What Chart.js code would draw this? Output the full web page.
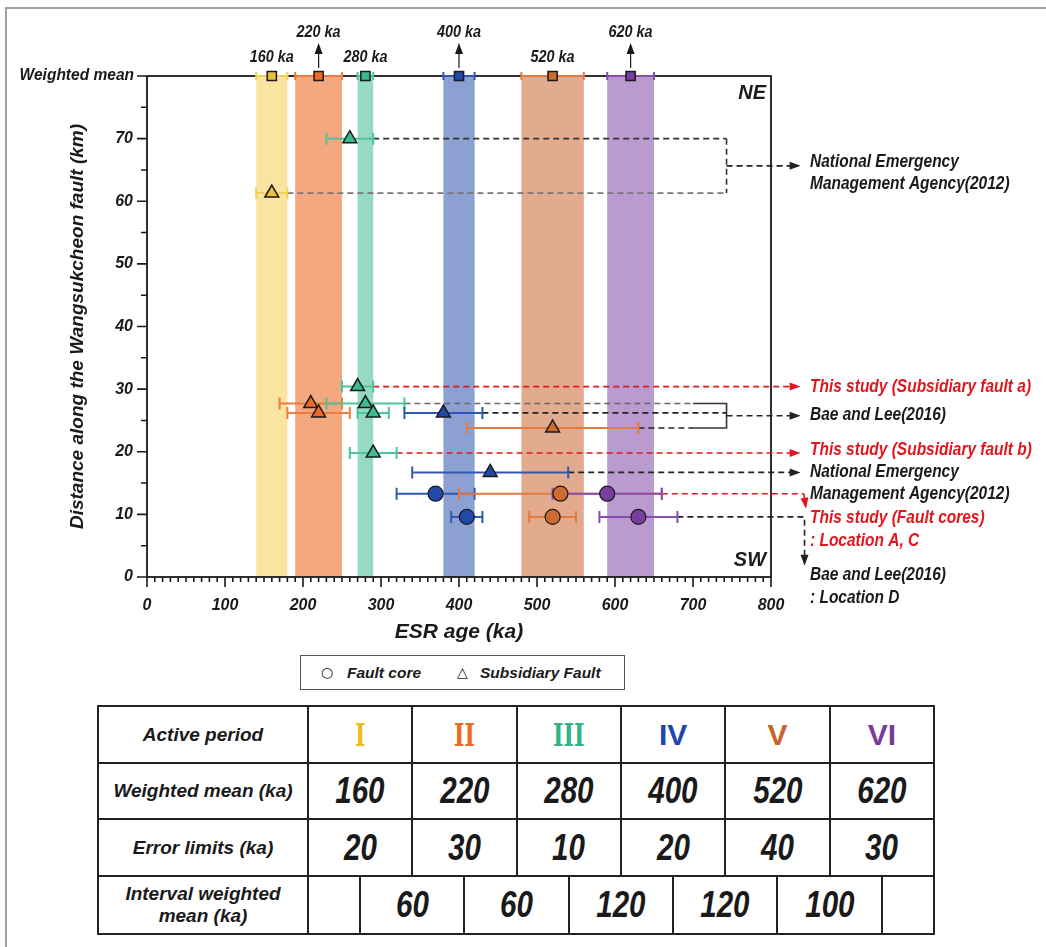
<!DOCTYPE html>
<html>
<head>
<meta charset="utf-8">
<script src="https://cdn.jsdelivr.net/npm/chart.js@4.4.0/dist/chart.umd.min.js"></script>
<style>
body{margin:0;background:#fff;width:1046px;height:947px;position:relative;overflow:hidden;font-family:"Liberation Sans",Arial,sans-serif;color:#1a1a1a;}
#frame{position:absolute;left:5px;top:7px;right:-5px;bottom:-5px;border-left:2px solid #a0a0a0;border-top:2px solid #a0a0a0;}
#wrap{position:absolute;left:0;top:0;width:1046px;height:650px;}
#legendBox{position:absolute;left:300px;top:655px;width:325px;height:35px;border:1.5px solid #555;box-sizing:border-box;font-style:italic;font-weight:bold;font-size:15.5px;}
#legendBox span{position:absolute;top:8px;white-space:nowrap;}
#legendBox .sym{font-style:normal;font-weight:normal;font-family:"DejaVu Sans",sans-serif;font-size:14px;top:8px;}
table{position:absolute;left:97px;top:705px;width:836px;border-collapse:collapse;table-layout:fixed;}
td{border:2px solid #222;text-align:center;font-style:italic;font-weight:bold;padding:0;}
td.lab{font-size:19px;line-height:22px;}
td.num span{display:inline-block;font-size:37px;transform:scaleX(0.8);}
td.rom{font-style:normal;font-size:30px;}
td.rom span{display:inline-block;}
td.rom span.serif{transform:scaleX(0.72);font-size:31px;}
</style>
</head>
<body>
<div id="frame"></div>
<div id="wrap"><canvas id="esrChart" width="1046" height="650"></canvas></div>
<div id="legendBox"><span class="sym" style="left:20px">○</span><span style="left:46px">Fault core</span><span class="sym" style="left:156px">△</span><span style="left:179px">Subsidiary Fault</span></div>
<table id="periodTable"></table>
<script>
// active periods (weighted means and error limits, ka)
const periodNames = ['I', 'II', 'III', 'IV', 'V', 'VI'];
const periodMeans = [160, 220, 280, 400, 520, 620];
const periodErrors = [20, 30, 10, 20, 40, 30];
const intervalMeans = [60, 60, 120, 120, 100];

const bandColors = ['#f9e4a0', '#f4a880', '#96dac1', '#8ca1d1', '#e2ab8d', '#b99bd0'];
const markColors = ['#e8c23c', '#ec6a2a', '#3dbb90', '#2049a8', '#cd6c31', '#7a3e9e'];
const barColors = ['#f0d258', '#ef7b3c', '#4cc49c', '#2f58b4', '#e07c43', '#8a4cae'];
const textColors = ['#ecbb1e', '#ec6a1e', '#2fb488', '#1f45b0', '#c8622a', '#7a3a9e'];

// subsidiary fault samples (triangles)
const subAge = [260, 160, 270, 210, 220, 280, 290, 380, 520, 290, 440];
const subDist = [70, 61.3, 30.4, 27.7, 26.2, 27.7, 26.2, 26.2, 23.8, 19.8, 16.7];
const subErr = [30, 20, 20, 40, 40, 50, 20, 50, 110, 30, 100];
const subPeriod = [2, 0, 2, 1, 1, 2, 2, 3, 4, 2, 3];

// fault core samples (circles)
const coreAge = [370, 530, 590, 410, 520, 630];
const coreDist = [13.3, 13.3, 13.3, 9.6, 9.6, 9.6];
const coreErr = [50, 130, 70, 20, 30, 50];
const corePeriod = [3, 4, 5, 3, 4, 5];

// reference labels on the right
const refLines = [
    ['National Emergency', 'Management Agency(2012)'],
    ['This study (Subsidiary fault a)'],
    ['Bae and Lee(2016)'],
    ['This study (Subsidiary fault b)'],
    ['National Emergency', 'Management Agency(2012)'],
    ['This study (Fault cores)', ': Location A, C'],
    ['Bae and Lee(2016)', ': Location D']
];
const refColors = ['#1a1a1a', '#e3161f', '#1a1a1a', '#e3161f', '#1a1a1a', '#e3161f', '#1a1a1a'];
const refDist = [66.3, 30.4, 25.9, 20.3, 16.8, 9.4, 0.3];

const FAM = '"Liberation Sans", Arial, sans-serif';
const RED = '#e3161f';

// table
(function buildTable() {
    let h = '<colgroup><col style="width:210px">';
    for (let i = 0; i < 12; i++) h += '<col style="width:' + (626 / 12) + 'px">';
    h += '</colgroup>';
    h += '<tr style="height:57px"><td class="lab">Active period</td>' + periodNames.map((n, i) =>
        `<td colspan="2" class="rom" style="color:${textColors[i]};font-family:${i < 3 ? '\'DejaVu Serif\'' : '\'Liberation Sans\''}"><span class="${i < 3 ? 'serif' : ''}">${n}</span></td>`).join('') + '</tr>';
    h += '<tr style="height:56px"><td class="lab">Weighted mean (ka)</td>' + periodMeans.map(m => `<td colspan="2" class="num"><span>${m}</span></td>`).join('') + '</tr>';
    h += '<tr style="height:57px"><td class="lab">Error limits (ka)</td>' + periodErrors.map(e => `<td colspan="2" class="num"><span>${e}</span></td>`).join('') + '</tr>';
    h += '<tr style="height:58px"><td class="lab">Interval weighted<br>mean (ka)</td><td></td>' + intervalMeans.map(m => `<td colspan="2" class="num"><span>${m}</span></td>`).join('') + '<td></td></tr>';
    document.getElementById('periodTable').innerHTML = h;
})();

function dashed(ctx, pts, color, dash) {
    ctx.save();
    ctx.strokeStyle = color;
    ctx.lineWidth = 1.6;
    ctx.setLineDash(dash === false ? [] : [6, 4]);
    ctx.beginPath();
    ctx.moveTo(pts[0][0], pts[0][1]);
    for (let i = 1; i < pts.length; i++) ctx.lineTo(pts[i][0], pts[i][1]);
    ctx.stroke();
    ctx.restore();
}

function arrowHead(ctx, x0, y0, x1, y1, color) {
    const a = Math.atan2(y1 - y0, x1 - x0);
    ctx.save();
    ctx.fillStyle = color;
    ctx.beginPath();
    ctx.moveTo(x1, y1);
    ctx.lineTo(x1 - 11 * Math.cos(a) + 4 * Math.sin(a), y1 - 11 * Math.sin(a) - 4 * Math.cos(a));
    ctx.lineTo(x1 - 11 * Math.cos(a) - 4 * Math.sin(a), y1 - 11 * Math.sin(a) + 4 * Math.cos(a));
    ctx.closePath();
    ctx.fill();
    ctx.restore();
}

// condensed text: squeeze horizontally around the anchor
function narrowText(ctx, s, x, y, sx) {
    ctx.save();
    ctx.translate(x, y);
    ctx.scale(sx, 1);
    ctx.fillText(s, 0, 0);
    ctx.restore();
}

function errBar(ctx, x, y, a, d, e, color, cap) {
    const x0 = x.getPixelForValue(a - e), x1 = x.getPixelForValue(a + e), yy = y.getPixelForValue(d);
    ctx.save();
    ctx.strokeStyle = color;
    ctx.lineWidth = 2;
    ctx.beginPath();
    ctx.moveTo(x0, yy); ctx.lineTo(x1, yy);
    ctx.moveTo(x0, yy - cap); ctx.lineTo(x0, yy + cap);
    ctx.moveTo(x1, yy - cap); ctx.lineTo(x1, yy + cap);
    ctx.stroke();
    ctx.restore();
}

const backdrop = {
    id: 'backdrop',
    beforeDatasetsDraw(chart) {
        const {ctx, chartArea: ca, scales: {x, y}} = chart;
        // period bands
        periodMeans.forEach((m, i) => {
            const l = x.getPixelForValue(m - periodErrors[i]), r = x.getPixelForValue(m + periodErrors[i]);
            ctx.fillStyle = bandColors[i];
            ctx.fillRect(l, ca.top, r - l, ca.bottom - ca.top);
        });
        // frame
        ctx.save();
        ctx.strokeStyle = '#1a1a1a';
        ctx.lineWidth = 1.8;
        ctx.strokeRect(ca.left, ca.top, ca.right - ca.left, ca.bottom - ca.top);
        ctx.restore();

        // leader lines
        const px = v => x.getPixelForValue(v), py = v => y.getPixelForValue(v);
        const bx = px(743), sx = px(700), tip = px(838);
        // National Emergency (upper)
        dashed(ctx, [[px(subAge[0] + subErr[0]), py(subDist[0])], [bx, py(subDist[0])]], '#333');
        dashed(ctx, [[px(subAge[1] + subErr[1]), py(subDist[1])], [bx, py(subDist[1])]], '#777');
        dashed(ctx, [[bx, py(subDist[0])], [bx, py(subDist[1])]], '#333');
        const m0 = py((subDist[0] + subDist[1]) / 2);
        dashed(ctx, [[bx, m0], [tip - 8, m0]], '#222');
        arrowHead(ctx, bx, m0, tip, m0, '#222');
        // subsidiary fault a
        dashed(ctx, [[px(subAge[2] + subErr[2]), py(subDist[2])], [tip - 8, py(subDist[2])]], RED);
        arrowHead(ctx, 0, py(subDist[2]), tip, py(subDist[2]), RED);
        // Bae and Lee bracket
        dashed(ctx, [[px(subAge[5] + subErr[5]), py(subDist[5])], [sx, py(subDist[5])]], '#666');
        dashed(ctx, [[px(subAge[7] + subErr[7]), py(subDist[7])], [bx, py(subDist[7])]], '#222');
        dashed(ctx, [[px(subAge[8] + subErr[8]), py(subDist[8])], [sx, py(subDist[8])]], '#222');
        dashed(ctx, [[sx, py(subDist[5])], [bx, py(subDist[5])], [bx, py(subDist[8])], [sx, py(subDist[8])]], '#333', false);
        const m1 = py((subDist[5] + subDist[8]) / 2);
        dashed(ctx, [[bx, m1], [tip - 8, m1]], '#222');
        arrowHead(ctx, bx, m1, tip, m1, '#222');
        // subsidiary fault b
        dashed(ctx, [[px(subAge[9] + subErr[9]), py(subDist[9])], [tip - 8, py(subDist[9])]], RED);
        arrowHead(ctx, 0, py(subDist[9]), tip, py(subDist[9]), RED);
        // National Emergency (lower)
        dashed(ctx, [[px(subAge[10] + subErr[10]), py(subDist[10])], [tip - 8, py(subDist[10])]], '#222');
        arrowHead(ctx, 0, py(subDist[10]), tip, py(subDist[10]), '#222');
        // fault cores
        const c0 = py(coreDist[1]);
        dashed(ctx, [[px(coreAge[1] + coreErr[1]), c0], [px(842), c0]], RED);
        dashed(ctx, [[px(842), c0], [px(844), py(11.6)]], RED, false);
        arrowHead(ctx, px(842), c0, px(845), py(10.9), RED);
        // Bae and Lee location D
        const c1 = py(coreDist[5]);
        dashed(ctx, [[px(coreAge[5] + coreErr[5]), c1], [px(843), c1], [px(843), py(3)]], '#222');
        arrowHead(ctx, px(843), c1, px(843), py(1.8), '#222');

        // error bars
        periodMeans.forEach((m, i) => errBar(ctx, x, y, m, 80, periodErrors[i], barColors[i], 4));
        subAge.forEach((a, i) => errBar(ctx, x, y, a, subDist[i], subErr[i], barColors[subPeriod[i]], 6));
        coreAge.forEach((a, i) => errBar(ctx, x, y, a, coreDist[i], coreErr[i], barColors[corePeriod[i]], 6));
    },
    afterDraw(chart) {
        const {ctx, chartArea: ca, scales: {x, y}} = chart;
        ctx.save();
        ctx.strokeStyle = '#1a1a1a';
        ctx.lineWidth = 1.6;
        ctx.beginPath();
        x.ticks.forEach(t => {
            const p = x.getPixelForValue(t.value), len = t.value % 100 === 0 ? 10 : 5;
            ctx.moveTo(p, ca.bottom); ctx.lineTo(p, ca.bottom + len);
        });
        y.ticks.forEach(t => {
            const p = y.getPixelForValue(t.value), len = t.value % 10 === 0 ? 10 : 6;
            ctx.moveTo(ca.left, p); ctx.lineTo(ca.left - len, p);
        });
        ctx.stroke();

        ctx.fillStyle = '#1a1a1a';
        ctx.textBaseline = 'middle';
        ctx.font = 'italic bold 16px ' + FAM;
        ctx.textAlign = 'right';
        narrowText(ctx, 'Weighted mean', ca.left - 13, y.getPixelForValue(80), 0.97);

        // weighted mean labels
        ctx.textAlign = 'center';
        periodMeans.forEach((m, i) => {
            const p = x.getPixelForValue(m);
            if (i % 2 === 1) {
                narrowText(ctx, m + ' ka', p, ca.top - 43, 0.9);
                ctx.beginPath();
                ctx.lineWidth = 1.2;
                ctx.moveTo(p, ca.top - 8); ctx.lineTo(p, ca.top - 26);
                ctx.stroke();
                arrowHead(ctx, p, ca.top - 8, p, ca.top - 33, '#1a1a1a');
            } else {
                narrowText(ctx, m + ' ka', p, ca.top - 18, 0.9);
            }
        });

        ctx.font = 'italic bold 21px ' + FAM;
        ctx.textAlign = 'right';
        narrowText(ctx, 'NE', ca.right - 5, ca.top + 17, 0.95);
        narrowText(ctx, 'SW', ca.right - 5, ca.bottom - 17, 0.95);

        // reference labels
        ctx.font = 'italic bold 18px ' + FAM;
        ctx.textAlign = 'left';
        refLines.forEach((lines, i) => {
            ctx.fillStyle = refColors[i];
            lines.forEach((s, k) => narrowText(ctx, s, ca.right + 39, y.getPixelForValue(refDist[i]) + k * 22.5, 0.86));
        });
        ctx.restore();
    }
};

const tickFont = {family: FAM, size: 16, style: 'italic', weight: 'bold'};

new Chart(document.getElementById('esrChart'), {
    type: 'scatter',
    data: {
        datasets: [
            {
                label: 'Weighted mean',
                data: periodMeans.map(m => ({x: m, y: 80})),
                pointStyle: 'rect', pointRadius: 6.5,
                backgroundColor: markColors, borderColor: '#1a1a1a', borderWidth: 1.5, clip: false
            },
            {
                label: 'Subsidiary Fault',
                data: subAge.map((a, i) => ({x: a, y: subDist[i]})),
                pointStyle: 'triangle', pointRadius: 8,
                backgroundColor: subPeriod.map(p => markColors[p]), borderColor: '#1a1a1a', borderWidth: 1.5
            },
            {
                label: 'Fault core',
                data: coreAge.map((a, i) => ({x: a, y: coreDist[i]})),
                pointStyle: 'circle', pointRadius: 7.5,
                backgroundColor: corePeriod.map(p => markColors[p]), borderColor: '#1a1a1a', borderWidth: 1.2
            }
        ]
    },
    options: {
        responsive: false,
        animation: false,
        events: [],
        layout: {padding: {left: 66, top: 76, right: 275, bottom: 5}},
        plugins: {legend: {display: false}, tooltip: {enabled: false}},
        scales: {
            x: {
                type: 'linear', min: 0, max: 800,
                grid: {display: false, drawTicks: false}, border: {display: false},
                ticks: {stepSize: 10, autoSkip: false, maxRotation: 0, padding: 19, color: '#1a1a1a', font: tickFont,
                    callback: v => v % 100 === 0 ? v : ''},
                title: {display: true, text: 'ESR age (ka)', color: '#1a1a1a', padding: 0,
                    font: {family: FAM, size: 21, style: 'italic', weight: 'bold'}},
                afterFit: s => { s.height = 68; }
            },
            y: {
                min: 0, max: 80,
                grid: {display: false, drawTicks: false}, border: {display: false},
                ticks: {stepSize: 5, autoSkip: false, padding: 14, color: '#1a1a1a', font: tickFont,
                    callback: v => (v % 10 === 0 && v < 80) ? v : ''},
                title: {display: true, text: 'Distance along the Wangsukcheon fault (km)', color: '#1a1a1a', padding: 0,
                    font: {family: FAM, size: 19, style: 'italic', weight: 'bold'}},
                afterFit: s => { s.width = 81; }
            }
        }
    },
    plugins: [backdrop]
});
</script>
</body>
</html>
